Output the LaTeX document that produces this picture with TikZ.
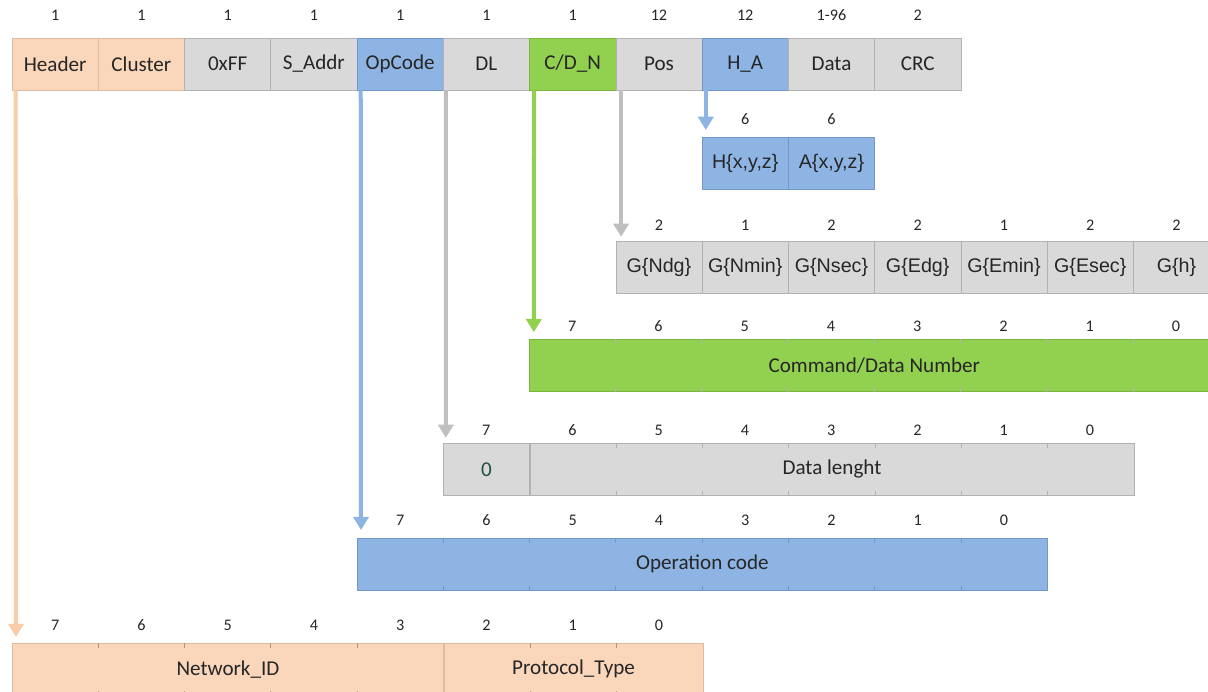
\documentclass[tikz,border=0pt]{standalone}
\usepackage{fontspec}
\setmainfont{Carlito}
\newfontfamily\arialfont{Liberation Sans}
\usetikzlibrary{arrows.meta, positioning}

\definecolor{peach}{RGB}{250,214,186}
\definecolor{peachline}{RGB}{222,186,158}
\definecolor{peacharrow}{RGB}{249,204,170}
\definecolor{greycell}{RGB}{217,217,217}
\definecolor{greyline}{RGB}{178,178,178}
\definecolor{greyarrow}{RGB}{191,191,191}
\definecolor{bluecell}{RGB}{141,180,227}
\definecolor{blueline}{RGB}{112,150,204}
\definecolor{greencell}{RGB}{146,208,80}
\definecolor{greenline}{RGB}{122,182,62}
\definecolor{zerotext}{RGB}{38,78,66}
\definecolor{ink}{RGB}{38,38,38}

\begin{document}
\begin{tikzpicture} [x=0.025cm, y=-0.025cm, node distance=2.156cm, on grid,
        cell/.style={draw=greyline, fill=greycell, text=ink, inner sep=0pt,
            minimum width=2.156cm, minimum height=1.3cm,
            font=\fontsize{15}{17}\selectfont},
        hdrcell/.style={cell, draw=peachline, fill=peach},
        opcell/.style={cell, draw=blueline, fill=bluecell},
        cdcell/.style={cell, draw=greenline, fill=greencell},
        gcell/.style={cell, font=\arialfont\fontsize{14}{16}\selectfont},
        bar/.style={cell, anchor=north west},
        size/.style={text=ink, inner sep=0pt, font=\fontsize{11.5}{13}\selectfont},
        tick/.style={draw=greyline, line width=0.5pt},
        link/.style={line width=0.1cm, -{Triangle[width=0.38cm, length=0.33cm]}}]
        \useasboundingbox (0,0) rectangle (1208,691);

        % frame
        \node (hdr) [hdrcell] at (55.1,64) {Header};
        \node (clu) [hdrcell, right=of hdr] {Cluster};
        \node (ff) [cell, right=of clu] {0xFF};
        \node (saddr) [cell, right=of ff] {S\_Addr};
        \node (opc) [opcell, right=of saddr] {OpCode};
        \node (dl) [cell, right=of opc] {DL};
        \node (cdn) [cdcell, right=of dl] {C/D\_N};
        \node (pos) [cell, right=of cdn] {Pos};
        \node (ha) [opcell, right=of pos] {H\_A};
        \node (data) [cell, right=of ha] {Data};
        \node (crc) [cell, right=of data] {CRC};
        \foreach \n/\s in {hdr/1, clu/1, ff/1, saddr/1, opc/1, dl/1, cdn/1,
                pos/12, ha/12, data/1-96, crc/2}
            \node (s-\n) [size, above=0.425cm of \n.north] {\s};

        % H_A
        \node (hxyz) [opcell, font=\arialfont\fontsize{14}{16}\selectfont,
            below=2.475cm of ha] {H\{x,y,z\}};
        \node (axyz) [opcell, font=\arialfont\fontsize{14}{16}\selectfont,
            right=of hxyz] {A\{x,y,z\}};
        \foreach \n in {hxyz, axyz}
            \node (s-\n) [size, above=0.3cm of \n.north] {6};

        % Pos
        \node (gndg) [gcell, below=5.075cm of pos] {G\{Ndg\}};
        \node (gnmin) [gcell, right=of gndg] {G\{Nmin\}};
        \node (gnsec) [gcell, right=of gnmin] {G\{Nsec\}};
        \node (gedg) [gcell, right=of gnsec] {G\{Edg\}};
        \node (gemin) [gcell, right=of gedg] {G\{Emin\}};
        \node (gesec) [gcell, right=of gemin] {G\{Esec\}};
        \node (gh) [gcell, right=of gesec] {G\{h\}};
        \foreach \n/\s in {gndg/2, gnmin/1, gnsec/2, gedg/2, gemin/1, gesec/2, gh/2}
            \node (s-\n) [size, above=0.25cm of \n.north] {\s};

        % C/D_N
        \node (cdbar) [bar, draw=greenline, fill=greencell, minimum width=8*2.156cm]
            at (529,339) {Command/Data Number};
        \foreach \i in {1,...,7}
            \draw [tick] ([xshift=\i*2.156cm]cdbar.north west) -- ++(0,5)
                ([xshift=\i*2.156cm]cdbar.south west) -- ++(0,-5);
        \foreach \b [count=\i] in {7,...,0}
            \node (cb\b) [size] at ([xshift=\i*2.156cm-1.078cm, yshift=0.325cm]cdbar.north west) {\b};

        % DL
        \node (zero) [bar, text=zerotext, minimum width=2.156cm] at (443,443) {0};
        \node (dlen) [bar, minimum width=7*2.156cm] at (zero.north east) {Data lenght};
        \foreach \i in {1,...,6}
            \draw [tick] ([xshift=\i*2.156cm]dlen.north west) -- ++(0,5)
                ([xshift=\i*2.156cm]dlen.south west) -- ++(0,-5);
        \foreach \b [count=\i] in {7,...,0}
            \node (db\b) [size] at ([xshift=\i*2.156cm-1.078cm, yshift=0.325cm]zero.north west) {\b};

        % OpCode
        \node (opbar) [bar, draw=blueline, fill=bluecell, minimum width=8*2.156cm]
            at (357,538) {Operation code};
        \foreach \i in {1,...,7}
            \draw [tick, draw=blueline] ([xshift=\i*2.156cm]opbar.north west) -- ++(0,5)
                ([xshift=\i*2.156cm]opbar.south west) -- ++(0,-5);
        \foreach \b [count=\i] in {7,...,0}
            \node (ob\b) [size] at ([xshift=\i*2.156cm-1.078cm, yshift=0.45cm]opbar.north west) {\b};

        % Header
        \node (netid) [bar, draw=peachline, fill=peach, minimum width=5*2.156cm]
            at (12,643) {Network\_ID};
        \node (proto) [bar, draw=peachline, fill=peach, minimum width=3*2.156cm]
            at (netid.north east) {Protocol\_Type};
        \foreach \i in {1,...,4}
            \draw [tick, draw=peachline!80!black] ([xshift=\i*2.156cm]netid.north west) -- ++(0,5)
                ([xshift=\i*2.156cm]netid.south west) -- ++(0,-5);
        \foreach \i in {1,2}
            \draw [tick, draw=peachline!80!black] ([xshift=\i*2.156cm]proto.north west) -- ++(0,5)
                ([xshift=\i*2.156cm]proto.south west) -- ++(0,-5);
        \foreach \b [count=\i] in {7,...,0}
            \node (hb\b) [size] at ([xshift=\i*2.156cm-1.078cm, yshift=0.45cm]netid.north west) {\b};

        \path [link]
        ([xshift=0.1cm]hdr.south west) edge [peacharrow, shorten >=0.15cm] ([xshift=0.1cm]netid.north west)
        ([xshift=0.1cm]opc.south west) edge [bluecell, shorten >=0.2cm] ([xshift=0.1cm]opbar.north west)
        ([xshift=0.07cm]dl.south west) edge [greyarrow, shorten >=0.13cm] ([xshift=0.07cm]zero.north west)
        ([xshift=0.12cm]cdn.south west) edge [greencell, shorten >=0.17cm] ([xshift=0.12cm]cdbar.north west)
        ([xshift=0.14cm]pos.south west) edge [greyarrow, shorten >=0.1cm] ([xshift=0.14cm]gndg.north west)
        ([xshift=0.1cm]ha.south west) edge [bluecell, shorten >=0.17cm] ([xshift=0.1cm]hxyz.north west)
        ;
    \end{tikzpicture}
\end{document}
